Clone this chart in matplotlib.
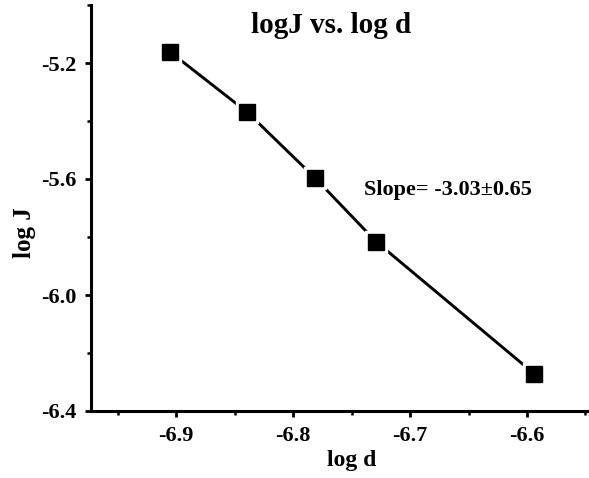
import matplotlib
matplotlib.use('Agg')
import matplotlib.pyplot as plt
from matplotlib.ticker import MultipleLocator

log_d = [-6.905, -6.839, -6.781, -6.729, -6.594]
log_J = [-5.162, -5.370, -5.597, -5.816, -6.271]

title = "logJ vs. log d"
slope_note = "Slope= -3.03\u00b10.65"

plt.rcParams['font.family'] = ['Liberation Serif', 'DejaVu Serif']
plt.rcParams['font.weight'] = 'bold'

fig = plt.figure(figsize=(5.89, 4.78), dpi=100)
ax = fig.add_axes([91 / 589, 67 / 478, 498 / 589, 406 / 478])

# line first, then a white square behind each marker so the line stops short of it
ax.plot(log_d, log_J, color='black', linewidth=2.1, zorder=2)
ax.plot(log_d, log_J, linestyle='none', marker='s', markersize=16,
        markerfacecolor='white', markeredgecolor='white', zorder=3)
ax.plot(log_d, log_J, linestyle='none', marker='s', markersize=11.5,
        markerfacecolor='black', markeredgecolor='black', zorder=4)

ax.set_xlim(-6.9727, -6.547)
ax.set_ylim(-6.4, -5.0)

ax.xaxis.set_major_locator(MultipleLocator(0.1))
ax.xaxis.set_minor_locator(MultipleLocator(0.05))
ax.yaxis.set_major_locator(MultipleLocator(0.4))
ax.yaxis.set_minor_locator(MultipleLocator(0.2))
ax.xaxis.set_major_formatter(matplotlib.ticker.FormatStrFormatter('%.1f'))
ax.yaxis.set_major_formatter(matplotlib.ticker.FormatStrFormatter('%.1f'))

for side in ['top', 'right']:
    ax.spines[side].set_visible(False)
for side in ['left', 'bottom']:
    ax.spines[side].set_linewidth(2.2)

ax.tick_params(which='major', direction='out', length=4.5, width=2.0,
               labelsize=16, pad=6)
ax.tick_params(which='minor', direction='out', length=3, width=1.8)

ax.set_xlabel("log d", fontsize=17, fontweight='bold')
ax.set_ylabel("log J", fontsize=18, fontweight='bold')
ax.xaxis.set_label_coords(0.524, -0.123)
ax.xaxis.label.set_va('center')
ax.yaxis.set_label_coords(-0.133, 0.44)
ax.yaxis.label.set_va('center')

ax.text(0.482, 0.95, title, transform=ax.transAxes, ha='center', va='center',
        fontsize=21, fontweight='bold')
ax.text(0.717, 0.544, slope_note, transform=ax.transAxes, ha='center', va='center',
        fontsize=16, fontweight='bold')

fig.savefig('out.png', dpi=100)
